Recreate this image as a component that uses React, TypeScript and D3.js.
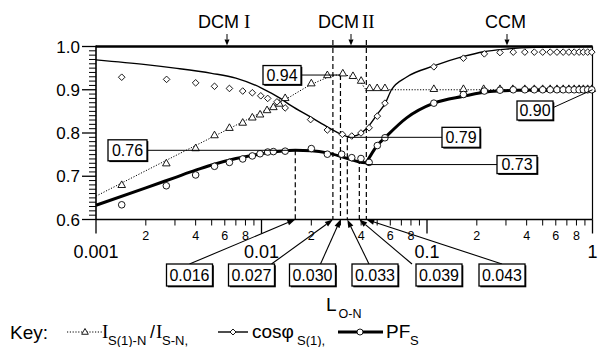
import React from "react";
import * as d3 from "d3";

// ---------- axis ticks ----------
const xMajorTicks = [0.001, 0.01, 0.1, 1];
const xMajorLabels = ["0.001", "0.01", "0.1", "1"];
const xMinorLabelDigits = [2, 4, 6, 8];
const yTicks = [0.6, 0.7, 0.8, 0.9, 1.0];
const yTickLabels = ["0.6", "0.7", "0.8", "0.9", "1.0"];

// ---------- model curves ----------
const isModelL = [0.001, 0.003, 0.006, 0.01, 0.014, 0.02, 0.025, 0.028, 0.031, 0.035, 0.04, 0.043, 0.05, 0.1, 1];
const isModelV = [0.654, 0.747, 0.805, 0.848, 0.878, 0.912, 0.928, 0.934, 0.934, 0.93, 0.916, 0.901, 0.9, 0.9, 0.9];

const cosModelL = [0.001, 0.002, 0.003, 0.005, 0.007, 0.01, 0.013, 0.015, 0.02, 0.024, 0.03, 0.034, 0.038, 0.043, 0.05, 0.056, 0.061, 0.075, 0.11, 0.166, 0.22, 0.3, 0.45, 1];
const cosModelV = [0.969, 0.958, 0.95, 0.938, 0.927, 0.904, 0.88, 0.864, 0.836, 0.818, 0.798, 0.791, 0.795, 0.81, 0.843, 0.869, 0.9, 0.929, 0.955, 0.977, 0.988, 0.994, 0.998, 1.0];

const pfModelL = [0.001, 0.002, 0.003, 0.004, 0.005, 0.007, 0.01, 0.013, 0.016, 0.02, 0.025, 0.03, 0.035, 0.039, 0.043, 0.05, 0.0557, 0.0753, 0.11, 0.166, 0.24, 0.35, 0.5, 1];
const pfModelV = [0.633, 0.673, 0.697, 0.714, 0.726, 0.741, 0.752, 0.758, 0.76, 0.759, 0.754, 0.746, 0.738, 0.733, 0.731, 0.771, 0.789, 0.835, 0.869, 0.885, 0.896, 0.899, 0.9, 0.9];
const pfKinkL = 0.043;

// ---------- measured points ----------
const triL = [0.00143, 0.00266, 0.004, 0.0052, 0.0064, 0.0077, 0.0088, 0.0098, 0.0108, 0.0118, 0.0128, 0.0139, 0.02, 0.025, 0.031, 0.0357, 0.04, 0.045, 0.05, 0.0557, 0.11, 0.166, 0.22, 0.276, 0.33, 0.39, 0.445, 0.5, 0.555, 0.61, 0.665, 0.72, 0.775, 0.83, 0.88, 0.935, 0.99];
const triV = [0.68, 0.73, 0.765, 0.795, 0.812, 0.824, 0.836, 0.843, 0.853, 0.86, 0.868, 0.881, 0.915, 0.934, 0.938, 0.932, 0.921, 0.904, 0.904, 0.904, 0.902, 0.902, 0.902, 0.902, 0.902, 0.902, 0.902, 0.902, 0.902, 0.902, 0.902, 0.902, 0.902, 0.902, 0.902, 0.902, 0.902];

const diaL = [0.00143, 0.00267, 0.004, 0.0052, 0.0064, 0.0077, 0.0088, 0.0099, 0.0109, 0.0124, 0.0139, 0.0198, 0.025, 0.0308, 0.0351, 0.0399, 0.0447, 0.0501, 0.0557, 0.11, 0.166, 0.222, 0.276, 0.332, 0.39, 0.445, 0.5, 0.555, 0.61, 0.665, 0.72, 0.775, 0.83, 0.88, 0.935, 0.99];
const diaV = [0.929, 0.924, 0.916, 0.908, 0.903, 0.897, 0.893, 0.886, 0.88, 0.872, 0.858, 0.831, 0.807, 0.797, 0.793, 0.8, 0.812, 0.839, 0.869, 0.953, 0.973, 0.983, 0.986, 0.987, 0.987, 0.987, 0.987, 0.987, 0.987, 0.987, 0.987, 0.987, 0.987, 0.987, 0.987, 0.987];

const cirL = [0.00143, 0.00266, 0.004, 0.0052, 0.0064, 0.0077, 0.0088, 0.0098, 0.0109, 0.0118, 0.0139, 0.02, 0.025, 0.0305, 0.0351, 0.0399, 0.0447, 0.0501, 0.0557, 0.11, 0.166, 0.222, 0.276, 0.332, 0.39, 0.445, 0.5, 0.555, 0.61, 0.665, 0.72, 0.775, 0.83, 0.88, 0.935, 0.99];
const cirV = [0.634, 0.678, 0.703, 0.723, 0.732, 0.74, 0.747, 0.752, 0.756, 0.757, 0.758, 0.764, 0.751, 0.751, 0.743, 0.741, 0.732, 0.771, 0.789, 0.869, 0.889, 0.897, 0.899, 0.9, 0.9, 0.9, 0.9, 0.9, 0.9, 0.9, 0.9, 0.9, 0.9, 0.9, 0.9, 0.9];

// ---------- annotations ----------
const markL = [0.016, 0.027, 0.03, 0.033, 0.039, 0.043];
const markLabels = ["0.016", "0.027", "0.030", "0.033", "0.039", "0.043"];
const markTopV = [0.76, 1.015, 0.934, 0.79, 0.74, 1.015];

const regionLabels = ["DCM", "DCM", "CCM"];
const regionNumerals = ["I", "II", ""];

const valueLabels = ["0.94", "0.76", "0.79", "0.73", "0.90"];
const valueLeaderV = [0.934, 0.76, 0.79, 0.727, 0.9];
const valueLeaderL = [0.03, 0.016, 0.033, 0.043, 1];

// layout (pixel placement of annotation boxes)
const bottomBoxCx = [189.5, 251.5, 312.5, 375, 439, 502];
const bottomLeaderDx = [0, 20, 8, -6, -27, 0];
const regionTextX = [198, 318, 485];
const regionNumX = [244, 362, 0];
const regionArrowX = [227, 351, 507];
const topBoxes = [
  { x: 263, y: 63, w: 38, h: 19, side: "right" },
  { x: 108, y: 142, w: 39, h: 21, side: "right" },
  { x: 442, y: 129, w: 38, h: 20, side: "left" },
  { x: 497, y: 156, w: 40, h: 18, side: "left" },
  { x: 517, y: 101, w: 36, h: 19, side: "rightUp" },
];

const SANS = "'Liberation Sans', Arial, Helvetica, sans-serif";
const SERIF = "'Liberation Serif', 'Times New Roman', serif";

function Box({ x, y, w, h, label, fs = 16 }: any) {
  return (
    <g>
      <rect x={x + 1.3} y={y + 1.3} width={w} height={h} fill="#000" />
      <rect x={x} y={y} width={w} height={h} fill="#fff" stroke="#000" strokeWidth={1.3} />
      <text x={x + w / 2} y={y + h / 2 + fs * 0.36} textAnchor="middle" fontFamily={SANS} fontSize={fs}>
        {label}
      </text>
    </g>
  );
}

function Arrow({ x1, y1, x2, y2, len = 8, hw = 2.8, sw = 1.1 }: any) {
  const a = Math.atan2(y2 - y1, x2 - x1);
  const bx = x2 - len * Math.cos(a);
  const by = y2 - len * Math.sin(a);
  const px = -Math.sin(a) * hw;
  const py = Math.cos(a) * hw;
  return (
    <g>
      <line x1={x1} y1={y1} x2={bx} y2={by} stroke="#000" strokeWidth={sw} />
      <path d={`M${x2},${y2}L${bx + px},${by + py}L${bx - px},${by - py}Z`} fill="#000" />
    </g>
  );
}

function Tri({ cx, cy, s = 4 }: any) {
  return (
    <path
      d={`M${cx},${cy - s}L${cx + s * 0.95},${cy + s * 0.65}L${cx - s * 0.95},${cy + s * 0.65}Z`}
      fill="#fff"
      stroke="#000"
      strokeWidth={0.9}
    />
  );
}
function Dia({ cx, cy, s = 3.3 }: any) {
  return (
    <path d={`M${cx},${cy - s}L${cx + s},${cy}L${cx},${cy + s}L${cx - s},${cy}Z`} fill="#fff" stroke="#000" strokeWidth={0.9} />
  );
}
function Cir({ cx, cy, r = 3.3 }: any) {
  return <circle cx={cx} cy={cy} r={r} fill="#fff" stroke="#000" strokeWidth={0.9} />;
}

export default function App() {
  const x = d3.scaleLog().domain([0.001, 1]).range([96, 592.5]);
  const y = d3.scaleLinear().domain([0.6, 1]).range([219.5, 46.5]);
  const x0 = x(0.001), x1 = x(1), yb = y(0.6), yt = y(1);

  const line = d3
    .line<[number, number]>()
    .x((d) => x(d[0]))
    .y((d) => y(d[1]))
    .curve(d3.curveMonotoneX);

  const zip = (L: number[], V: number[]) => L.map((l, i) => [l, V[i]] as [number, number]);
  const isPts = zip(isModelL, isModelV);
  const cosPts = zip(cosModelL, cosModelV);
  const pfPts = zip(pfModelL, pfModelV);
  const pfA = pfPts.filter((d) => d[0] <= pfKinkL);
  const pfB = pfPts.filter((d) => d[0] >= pfKinkL);

  const xMinor: number[] = [];
  [0.001, 0.01, 0.1].forEach((d) => {
    for (let k = 2; k <= 9; k++) xMinor.push(d * k);
  });
  const yMinor = d3.range(60, 101).filter((v) => v % 10 !== 0).map((v) => v / 100);

  return (
    <svg width={598} height={347} style={{ position: "absolute", left: 0, top: 0, background: "#fff" }}>
      <rect x={0} y={0} width={598} height={347} fill="#fff" />

      {/* frame */}
      <line x1={x0} y1={yt} x2={x1} y2={yt} stroke="#000" strokeWidth={2.6} />
      <line x1={x0} y1={yt - 1} x2={x0} y2={yb} stroke="#000" strokeWidth={1.6} />
      <line x1={x0} y1={yb} x2={x1} y2={yb} stroke="#000" strokeWidth={1.6} />
      <line x1={x1} y1={yt} x2={x1} y2={yb} stroke="#000" strokeWidth={1.2} />

      {/* y ticks */}
      {yTicks.map((t, i) => (
        <g key={"yt" + i}>
          <line x1={x0 - 14} x2={x0} y1={y(t)} y2={y(t)} stroke="#000" strokeWidth={1.3} />
          <text x={80} y={y(t) + 6} textAnchor="end" fontFamily={SANS} fontSize={17}>
            {yTickLabels[i]}
          </text>
        </g>
      ))}
      {yMinor.map((t, i) => (
        <line key={"ym" + i} x1={x0 - 7} x2={x0} y1={y(t)} y2={y(t)} stroke="#000" strokeWidth={1} />
      ))}

      {/* x ticks */}
      {xMajorTicks.map((t, i) => (
        <g key={"xt" + i}>
          <line x1={x(t)} x2={x(t)} y1={yb} y2={yb + 14} stroke="#000" strokeWidth={1.3} />
          <text x={x(t)} y={257.5} textAnchor="middle" fontFamily={SANS} fontSize={18}>
            {xMajorLabels[i]}
          </text>
        </g>
      ))}
      {xMinor.map((t, i) => (
        <line key={"xm" + i} x1={x(t)} x2={x(t)} y1={yb} y2={yb + 6} stroke="#000" strokeWidth={1} />
      ))}
      {[0.001, 0.01, 0.1].map((d) =>
        xMinorLabelDigits.map((k) => (
          <text key={"xl" + d + k} x={x(d * k)} y={240} textAnchor="middle" fontFamily={SANS} fontSize={12.5}>
            {k}
          </text>
        ))
      )}

      {/* dashed marker lines */}
      {markL.map((l, i) => (
        <line
          key={"dl" + i}
          x1={x(l)}
          x2={x(l)}
          y1={y(markTopV[i])}
          y2={yb}
          stroke="#000"
          strokeWidth={1.2}
          strokeDasharray="5,3"
        />
      ))}

      {/* model curves */}
      <path d={line(isPts) || ""} fill="none" stroke="#000" strokeWidth={1} strokeDasharray="1.2,1.6" />
      <path d={line(cosPts) || ""} fill="none" stroke="#000" strokeWidth={1.4} />
      <path d={line(pfA) || ""} fill="none" stroke="#000" strokeWidth={3} />
      <path d={line(pfB) || ""} fill="none" stroke="#000" strokeWidth={3} />

      {/* measured markers */}
      {triL.map((l, i) => (
        <Tri key={"tr" + i} cx={x(l)} cy={y(triV[i])} />
      ))}
      {diaL.map((l, i) => (
        <Dia key={"di" + i} cx={x(l)} cy={y(diaV[i])} />
      ))}
      {cirL.map((l, i) => (
        <Cir key={"ci" + i} cx={x(l)} cy={y(cirV[i])} />
      ))}

      {/* value leaders and boxes */}
      {topBoxes.map((b, i) => {
        const px = x(valueLeaderL[i]);
        const py = y(valueLeaderV[i]);
        let lx1 = b.x + b.w, ly1 = py;
        if (b.side === "left") lx1 = b.x;
        if (b.side === "rightUp") ly1 = b.y + b.h * 0.35;
        return (
          <g key={"vb" + i}>
            <line x1={lx1} y1={ly1} x2={px} y2={py} stroke="#000" strokeWidth={1} />
            <Box x={b.x} y={b.side === "rightUp" ? b.y : py - b.h / 2} w={b.w} h={b.h} label={valueLabels[i]} fs={16} />
          </g>
        );
      })}

      {/* bottom boxes with arrows */}
      {markL.map((l, i) => (
        <g key={"bb" + i}>
          <Arrow x1={bottomBoxCx[i] + bottomLeaderDx[i]} y1={264} x2={x(l)} y2={yb} />
          <Box x={bottomBoxCx[i] - 23} y={264} w={46} h={22} label={markLabels[i]} fs={16} />
        </g>
      ))}

      {/* region labels */}
      {regionLabels.map((r, i) => (
        <g key={"rg" + i}>
          <text x={regionTextX[i]} y={28} fontFamily={SANS} fontSize={18}>
            {r}
          </text>
          {regionNumerals[i] && (
            <text x={regionNumX[i]} y={28} fontFamily={SERIF} fontSize={19}>
              {regionNumerals[i]}
            </text>
          )}
          <Arrow x1={regionArrowX[i]} y1={34} x2={regionArrowX[i]} y2={yt - 1} len={6} hw={2.5} sw={1} />
        </g>
      ))}

      {/* x axis title */}
      <text x={326} y={311} fontFamily={SANS} fontSize={19}>
        L
      </text>
      <text x={338.5} y={318} fontFamily={SANS} fontSize={12.5}>
        O-N
      </text>

      {/* legend */}
      <text x={10} y={339} fontFamily={SANS} fontSize={19}>
        Key:
      </text>
      <line x1={67} x2={103} y1={332} y2={332} stroke="#000" strokeWidth={1} strokeDasharray="1.2,1.6" />
      <Tri cx={85} cy={332} s={3.5} />
      <text x={102} y={338} fontFamily={SERIF} fontSize={19}>
        I
      </text>
      <text x={108} y={345} fontFamily={SANS} fontSize={13}>
        S(1)-N
      </text>
      <text x={150} y={338} fontFamily={SANS} fontSize={18}>
        /
      </text>
      <text x={156} y={338} fontFamily={SERIF} fontSize={19}>
        I
      </text>
      <text x={162} y={345} fontFamily={SANS} fontSize={13}>
        S-N,
      </text>

      <line x1={218} x2={248} y1={332} y2={332} stroke="#000" strokeWidth={1.4} />
      <Dia cx={233} cy={332} s={3} />
      <text x={252} y={338} fontFamily={SANS} fontSize={19}>
        cosφ
      </text>
      <text x={297} y={345} fontFamily={SANS} fontSize={13}>
        S(1),
      </text>

      <line x1={338} x2={383} y1={332} y2={332} stroke="#000" strokeWidth={3} />
      <Cir cx={360} cy={332} r={3} />
      <text x={386} y={338} fontFamily={SANS} fontSize={19}>
        PF
      </text>
      <text x={410} y={345} fontFamily={SANS} fontSize={13}>
        S
      </text>
    </svg>
  );
}
